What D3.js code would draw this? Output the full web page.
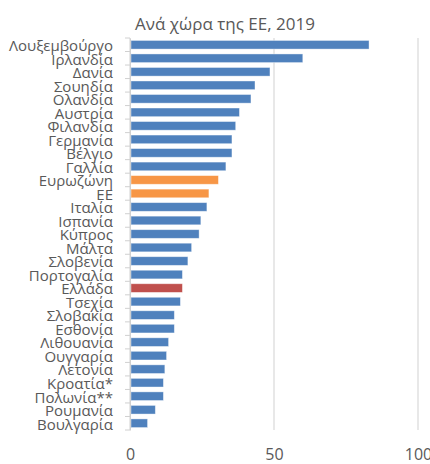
<!DOCTYPE html>
<html>
<head>
<meta charset="utf-8">
<script src="https://cdn.jsdelivr.net/npm/d3@7"></script>
<style>
  body { margin: 0; background: #fff; }
  svg { display: block; }
</style>
</head>
<body>
<svg id="chart" width="430" height="464"></svg>
<script>
// data
var countries = ["Λουξεμβούργο", "Ιρλανδία", "Δανία", "Σουηδία", "Ολανδία", "Αυστρία",
  "Φιλανδία", "Γερμανία", "Βέλγιο", "Γαλλία", "Ευρωζώνη", "ΕΕ", "Ιταλία", "Ισπανία",
  "Κύπρος", "Μάλτα", "Σλοβενία", "Πορτογαλία", "Ελλάδα", "Τσεχία", "Σλοβακία",
  "Εσθονία", "Λιθουανία", "Ουγγαρία", "Λετονία", "Κροατία*", "Πολωνία**", "Ρουμανία", "Βουλγαρία"];
var values = [83, 60, 48.6, 43.4, 42, 38, 36.7, 35.4, 35.4, 33.3, 30.7, 27.4, 26.7, 24.6,
  24, 21.4, 20.1, 18.2, 18.2, 17.5, 15.4, 15.4, 13.4, 12.7, 12.1, 11.6, 11.6, 8.8, 6.1];
var xTicks = [0, 50, 100];
var title = "Ανά χώρα της ΕΕ, 2019";

var aggregates = ["Ευρωζώνη", "ΕΕ"];
var highlight = "Ελλάδα";

var margin = {top: 38, right: 12, bottom: 34, left: 130};
var width = 430 - margin.left - margin.right;
var height = 464 - margin.top - margin.bottom;

var data = countries.map(function(c, i) { return {country: c, value: values[i]}; });

var svg = d3.select("#chart");
var g = svg.append("g")
    .attr("transform", `translate(${margin.left}, ${margin.top})`);

var x = d3.scaleLinear()
    .domain([0, 100])
    .range([0, 288]);

var y = d3.scaleBand()
    .domain(countries)
    .range([0, height])
    .paddingInner(0.36)
    .paddingOuter(0.18);

// grid lines
g.selectAll(".grid")
    .data(xTicks)
    .enter().append("line")
    .attr("class", "grid")
    .attr("x1", d => x(d)).attr("x2", d => x(d))
    .attr("y1", 0).attr("y2", height)
    .attr("stroke", "#d9d9d9")
    .attr("stroke-width", 1.2);

// x axis (labels only)
var xAxis = g.append("g")
    .attr("transform", `translate(0, ${height})`)
    .call(d3.axisBottom(x).tickValues(xTicks).tickSize(0).tickPadding(19));
xAxis.select(".domain").remove();
xAxis.selectAll("text")
    .attr("fill", "#595959")
    .style("font-family", "'Open Sans', sans-serif")
    .style("font-size", "16px");

// bars
g.selectAll("rect")
    .data(data)
    .enter().append("rect")
    .attr("x", x(0) + 1)
    .attr("y", d => y(d.country))
    .attr("width", d => x(d.value) - x(0) - 1)
    .attr("height", y.bandwidth())
    .attr("fill", function(d) {
        if (d.country === highlight) return "#c0504d";
        if (aggregates.indexOf(d.country) >= 0) return "#f79646";
        return "#4f81bd";
    })
    .attr("stroke", "#ffffff")
    .attr("stroke-opacity", 0.5)
    .attr("stroke-width", 0.8);

// y axis
var yAxis = g.append("g")
    .call(d3.axisLeft(y).tickSize(0).tickPadding(17));
yAxis.select(".domain").attr("stroke", "#d0d0d0");
yAxis.selectAll("text")
    .attr("fill", "#595959")
    .attr("dy", "0.42em")
    .style("font-family", "'Open Sans', sans-serif")
    .style("font-size", "15px");

// small ticks between categories
var step = y.step();
g.selectAll(".ytick")
    .data(countries.concat(["end"]))
    .enter().append("line")
    .attr("class", "ytick")
    .attr("x1", -5).attr("x2", 0)
    .attr("y1", (d, i) => i < countries.length ? y(d) - step * y.paddingInner() / 2 : height)
    .attr("y2", (d, i) => i < countries.length ? y(d) - step * y.paddingInner() / 2 : height)
    .attr("stroke", "#d0d0d0");

// title
svg.append("text")
    .attr("x", 225)
    .attr("y", 30)
    .attr("text-anchor", "middle")
    .attr("fill", "#595959")
    .style("font-family", "'Open Sans', sans-serif")
    .style("font-size", "17px")
    .text(title);
</script>
</body>
</html>
